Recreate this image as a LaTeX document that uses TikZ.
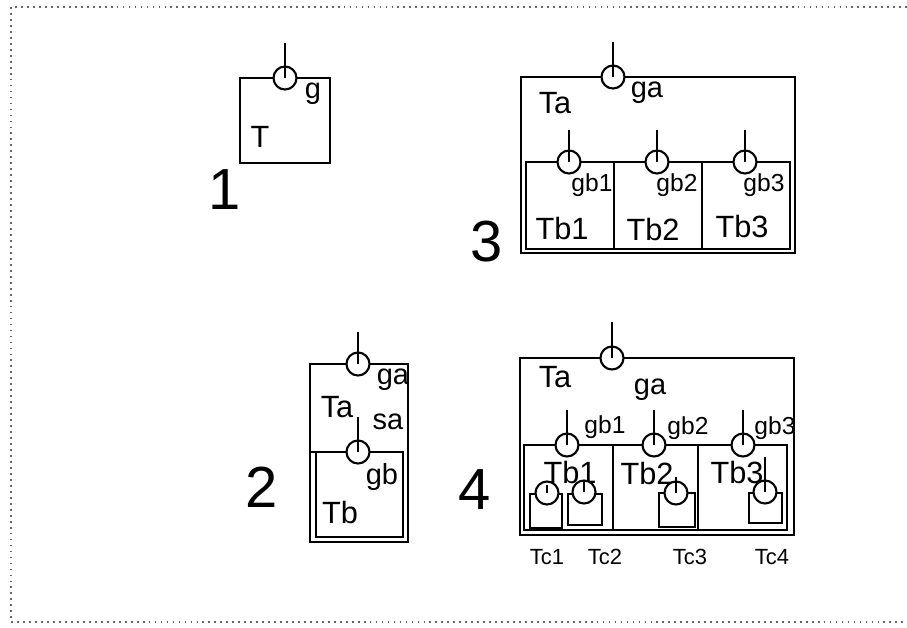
\documentclass[tikz,border=0pt]{standalone}
\usepackage{fontspec}
\setmainfont{Liberation Sans}
\usepackage{tikz}
\tikzset{
  box/.style={line width=1.4pt},
  port/.style={circle, draw, fill=white, line width=1.2pt, minimum size=0.46cm, inner sep=0pt},
  stem/.style={line width=1.2pt},
  tlabel/.style={font=\fontsize{17.5}{20}\selectfont, inner sep=0pt},
  glabel/.style={font=\fontsize{16.5}{19}\selectfont, inner sep=0pt},
  gsmall/.style={font=\fontsize{14}{16}\selectfont, inner sep=0pt},
  clabel/.style={font=\fontsize{12.5}{15}\selectfont, inner sep=0pt},
  bignum/.style={font=\fontsize{33}{36}\selectfont, inner sep=0pt},
  frame/.style={dash pattern=on 1pt off 2.4pt, line width=0.9pt, black!60},
}

\begin{document}
\begin{tikzpicture}[x=0.02cm, y=-0.02cm]
  \useasboundingbox (0,0) rectangle (907,627);
  % dotted frame
  \coordinate (fr1) at (907,7);
  \coordinate (fr2) at (11,7);
  \coordinate (fr3) at (11,622);
  \coordinate (fr4) at (907,622);
  \draw[frame] (fr1) -- (fr2) -- (fr3) -- (fr4);

  % 1
  \draw[box] (240,78) rectangle (330,163);
  \node[port] (g) at (285,78) {};
  \coordinate (g-in) at (285,43);
  \draw[stem] (g-in) -- (g.center);
  \node[glabel] (lg) at (313,94) {g};
  \node[tlabel] (lT) at (260,137) {T};
  \node[bignum] (n1) at (225,190) {1};

  % 3
  \draw[box] (521,77) rectangle (795,253);
  \draw[box] (526,162) rectangle (790,249);
  \draw[box] (614,162) -- (614,249);
  \draw[box] (702,162) -- (702,249);
  \node[port] (ga3) at (613,77) {};
  \coordinate (ga3-in) at (613,42);
  \draw[stem] (ga3-in) -- (ga3.center);
  \foreach \i/\x in {1/569,2/657,3/745}{
    \node[port] (gb3\i) at (\x,162) {};
    \coordinate (gb3\i-in) at (\x,130);
    \draw[stem] (gb3\i-in) -- (gb3\i.center);
  }
  \node[tlabel] (lTa3) at (555,103) {Ta};
  \node[glabel] (lga3) at (647,93) {ga};
  \node[gsmall] (lgb31) at (592,185) {gb1};
  \node[gsmall] (lgb32) at (677,185) {gb2};
  \node[gsmall] (lgb33) at (764,185) {gb3};
  \node[tlabel] (lTb31) at (562,228) {Tb1};
  \node[tlabel] (lTb32) at (653,229) {Tb2};
  \node[tlabel] (lTb33) at (742,226) {Tb3};
  \node[bignum] (n3) at (487,242) {3};

  % 2
  \draw[box] (310,364) rectangle (408,542);
  \draw[box] (316,452) rectangle (403,537);
  \draw[box] (310,452) -- (316,452);
  \node[port] (ga2) at (358,364) {};
  \coordinate (ga2-in) at (358,332);
  \draw[stem] (ga2-in) -- (ga2.center);
  \node[port] (gb2) at (358,452) {};
  \coordinate (gb2-in) at (358,417);
  \draw[stem] (gb2-in) -- (gb2.center);
  \node[glabel] (lga2) at (393,380) {ga};
  \node[tlabel] (lTa2) at (337,407) {Ta};
  \node[glabel] (lsa2) at (388,422) {sa};
  \node[glabel] (lgb2) at (382,477) {gb};
  \node[tlabel] (lTb2) at (340,512) {Tb};
  \node[bignum] (n2) at (262,487) {2};

  % 4
  \draw[box] (520,358) rectangle (794,535);
  \draw[box] (524,445) rectangle (787,530);
  \draw[box] (613,445) -- (613,530);
  \draw[box] (698,445) -- (698,530);
  \node[port] (ga4) at (612,358) {};
  \coordinate (ga4-in) at (612,322);
  \draw[stem] (ga4-in) -- (ga4.center);
  \node[tlabel] (lTa4) at (555,377) {Ta};
  \node[glabel] (lga4) at (650,390) {ga};
  \node[tlabel] (lTb41) at (570,472) {Tb1};
  \node[tlabel] (lTb42) at (647,473) {Tb2};
  \node[tlabel] (lTb43) at (737,472) {Tb3};
  \foreach \i/\x in {1/567,2/654,3/743}{
    \node[port] (gb4\i) at (\x,445) {};
    \coordinate (gb4\i-in) at (\x,410);
    \draw[stem] (gb4\i-in) -- (gb4\i.center);
  }
  \node[gsmall] (lgb41) at (605,427) {gb1};
  \node[gsmall] (lgb42) at (688,428) {gb2};
  \node[gsmall] (lgb43) at (775,428) {gb3};
  % Tc boxes
  \draw[box] (530,494) rectangle (562,528);
  \draw[box] (568,494) rectangle (602,525);
  \draw[box] (659,493) rectangle (695,527);
  \draw[box] (749,493) rectangle (782,523);
  \foreach \i/\x/\y/\t in {1/547/493/485,2/584/492/480,3/676/493/477,4/765/492/457}{
    \node[port] (gc\i) at (\x,\y) {};
    \coordinate (gc\i-in) at (\x,\t);
    \draw[stem] (gc\i-in) -- (gc\i.center);
  }
  \node[clabel] (lTc1) at (547,557) {Tc1};
  \node[clabel] (lTc2) at (605,557) {Tc2};
  \node[clabel] (lTc3) at (690,557) {Tc3};
  \node[clabel] (lTc4) at (772,557) {Tc4};
  \node[bignum] (n4) at (475,490) {4};
\end{tikzpicture}
\end{document}
